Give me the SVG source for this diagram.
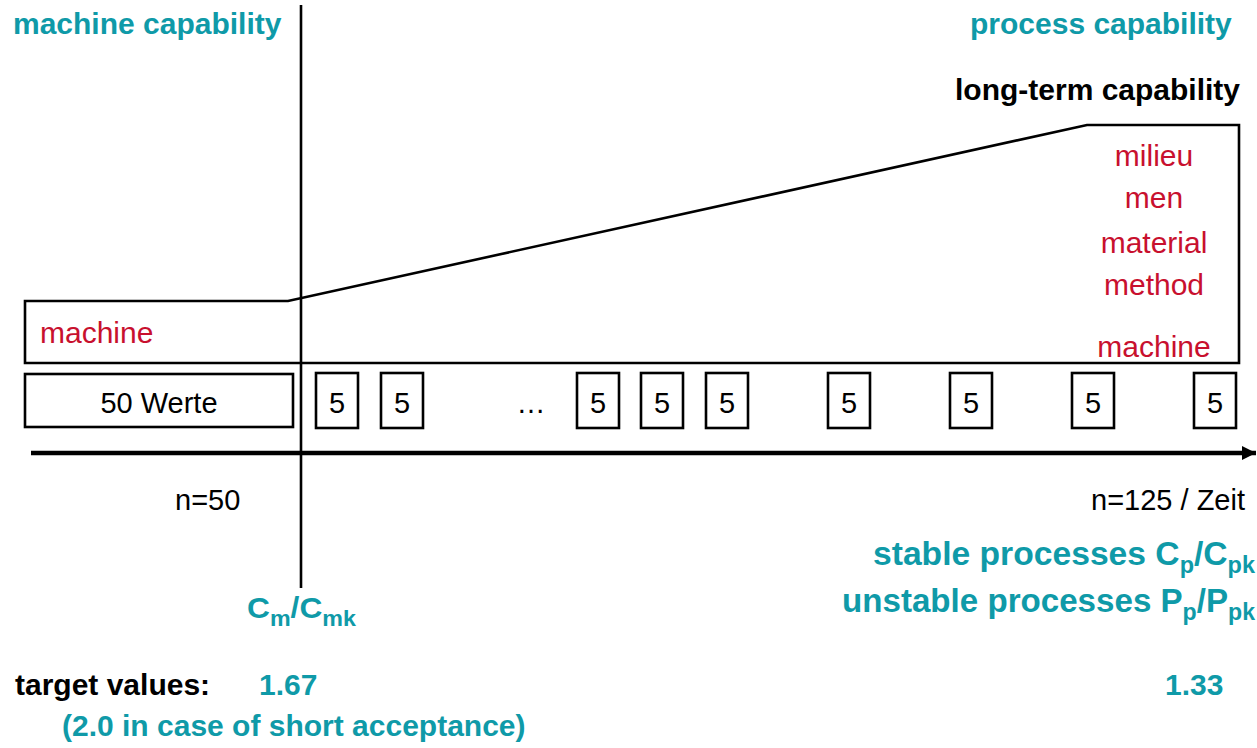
<svg xmlns="http://www.w3.org/2000/svg" width="1257" height="748" viewBox="0 0 1257 748">
  <style>
    text { font-family: "Liberation Sans", Arial, sans-serif; }
    .teal { fill: #0f9aa8; font-weight: bold; font-size: 30px; }
    .big { font-size: 33px; }
    .head { fill: #000; font-weight: bold; font-size: 30px; }
    .red { fill: #c8102e; font-size: 30px; }
    .lbl { fill: #000; font-size: 29px; }
    .mid { text-anchor: middle; }
    .box { fill: #fff; stroke: #000; stroke-width: 2.6; }
    .line { fill: none; stroke: #000; stroke-width: 2.6; }
  </style>
  <defs>
    <marker id="arrow" viewBox="0 0 10 10" refX="10" refY="5" markerWidth="3.2" markerHeight="3.2" orient="auto" markerUnits="strokeWidth">
      <path d="M0,0 L10,5 L0,10 Z" fill="#000"/>
    </marker>
  </defs>
  <rect width="1257" height="748" fill="#fff"/>

  <!-- section titles -->
  <g id="titles">
    <text class="teal" x="13" y="34">machine capability</text>
    <text class="teal" x="970" y="34">process capability</text>
    <text class="head" x="955" y="100">long-term capability</text>
  </g>

  <!-- influence envelope: machine only, widening to all influences -->
  <g id="envelope">
    <polygon class="line" points="25,301 288,301 1087,125 1239,125 1239,363 25,363"/>
    <text class="red" x="40" y="343">machine</text>
    <text class="red mid" x="1154" y="166">milieu</text>
    <text class="red mid" x="1154" y="208">men</text>
    <text class="red mid" x="1154" y="253">material</text>
    <text class="red mid" x="1154" y="295">method</text>
    <text class="red mid" x="1154" y="357">machine</text>
  </g>

  <!-- sample blocks -->
  <g id="sample-50">
    <rect class="box" x="25" y="374" width="268" height="53"/>
    <text class="lbl mid" x="159" y="413">50 Werte</text>
  </g>
  <g id="samples-5">
    <rect class="box" x="316" y="373" width="42" height="55"/><text class="lbl mid" x="337" y="413">5</text>
    <rect class="box" x="381" y="373" width="42" height="55"/><text class="lbl mid" x="402" y="413">5</text>
    <text class="lbl mid" x="531" y="413">…</text>
    <rect class="box" x="577" y="373" width="42" height="55"/><text class="lbl mid" x="598" y="413">5</text>
    <rect class="box" x="641" y="373" width="42" height="55"/><text class="lbl mid" x="662" y="413">5</text>
    <rect class="box" x="706" y="373" width="42" height="55"/><text class="lbl mid" x="727" y="413">5</text>
    <rect class="box" x="828" y="373" width="42" height="55"/><text class="lbl mid" x="849" y="413">5</text>
    <rect class="box" x="950" y="373" width="42" height="55"/><text class="lbl mid" x="971" y="413">5</text>
    <rect class="box" x="1072" y="373" width="42" height="55"/><text class="lbl mid" x="1093" y="413">5</text>
    <rect class="box" x="1194" y="373" width="42" height="55"/><text class="lbl mid" x="1215" y="413">5</text>
  </g>

  <!-- time axis and divider -->
  <g id="connectors">
    <line x1="31" y1="453" x2="1256" y2="453" stroke="#000" stroke-width="4.5" marker-end="url(#arrow)"/>
    <line class="line" x1="301" y1="5" x2="301" y2="588"/>
  </g>

  <!-- axis labels -->
  <g id="axis-labels">
    <text class="lbl" x="175" y="510">n=50</text>
    <text class="lbl" x="1245" y="510" text-anchor="end">n=125 / Zeit</text>
  </g>

  <!-- indices -->
  <g id="machine-index">
    <text class="teal" x="247" y="618" textLength="109" lengthAdjust="spacingAndGlyphs">C<tspan font-size="22" dy="8">m</tspan><tspan dy="-8">/C</tspan><tspan font-size="22" dy="8">mk</tspan></text>
  </g>
  <g id="process-index">
    <text class="teal big" x="873" y="565" textLength="382" lengthAdjust="spacingAndGlyphs">stable processes C<tspan font-size="23" dy="8">p</tspan><tspan dy="-8">/C</tspan><tspan font-size="23" dy="8">pk</tspan></text>
    <text class="teal big" x="842" y="612" textLength="413" lengthAdjust="spacingAndGlyphs">unstable processes P<tspan font-size="23" dy="8">p</tspan><tspan dy="-8">/P</tspan><tspan font-size="23" dy="8">pk</tspan></text>
  </g>

  <!-- target values -->
  <g id="targets">
    <text class="head" x="15" y="695">target values:</text>
    <text class="teal" x="259" y="695">1.67</text>
    <text class="teal" x="1165" y="695">1.33</text>
    <text class="teal" x="62" y="736">(2.0 in case of short acceptance)</text>
  </g>
</svg>
